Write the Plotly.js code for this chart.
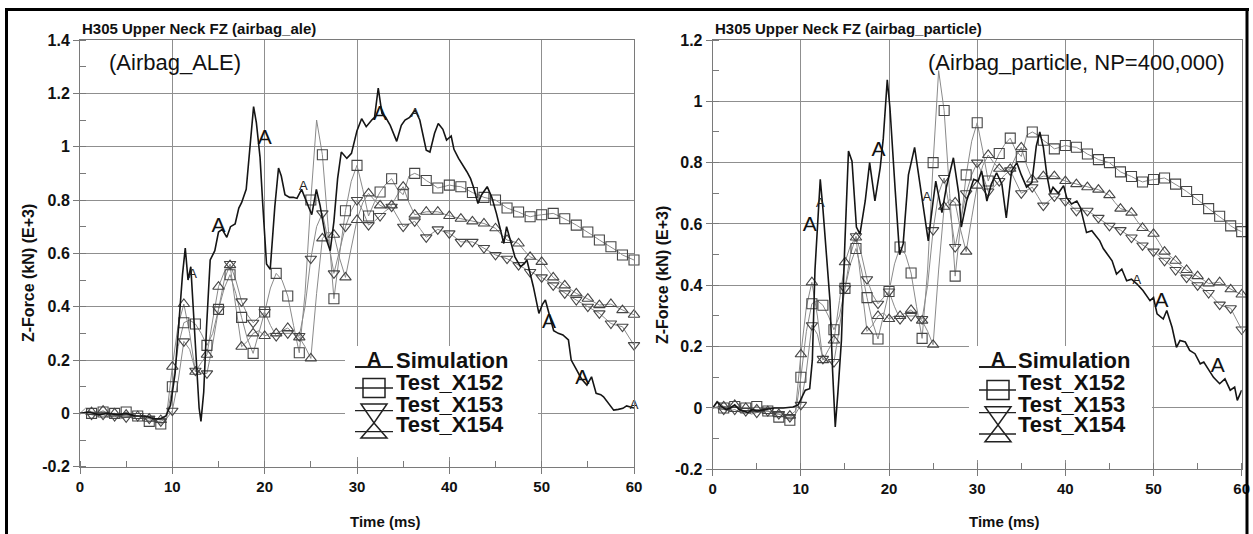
<!DOCTYPE html>
<html><head><meta charset="utf-8">
<script src="https://cdn.plot.ly/plotly-3.0.1.min.js"></script>
<style>html,body{margin:0;padding:0;background:#fff;}#chart{width:1253px;height:534px;}</style>
</head><body><div id="chart"></div>
<script>
// ---------- data ----------
const timeTest = [0,0.625,1.25,1.875,2.5,3.125,3.75,4.375,5,5.625,6.25,6.875,7.5,8.125,8.75,9.375,10,10.625,11.25,11.875,12.5,13.125,13.75,14.375,15,15.625,16.25,16.875,17.5,18.125,18.75,19.375,20,20.625,21.25,21.875,22.5,23.125,23.75,24.375,25,25.625,26.25,26.875,27.5,28.125,28.75,29.375,30,30.625,31.25,31.875,32.5,33.125,33.75,34.375,35,35.625,36.25,36.875,37.5,38.125,38.75,39.375,40,40.625,41.25,41.875,42.5,43.125,43.75,44.375,45,45.625,46.25,46.875,47.5,48.125,48.75,49.375,50,50.625,51.25,51.875,52.5,53.125,53.75,54.375,55,55.625,56.25,56.875,57.5,58.125,58.75,59.375,60];
const testX152 = [0,0.005,0,-0.005,0.005,0,0,-0.005,0.005,-0.005,-0.01,-0.015,-0.03,-0.025,-0.04,-0.02,0.1,0.25,0.34,0.35,0.335,0.3,0.255,0.3,0.39,0.47,0.52,0.45,0.36,0.28,0.225,0.3,0.38,0.47,0.525,0.5,0.44,0.33,0.227,0.45,0.8,1.1,0.97,0.7,0.43,0.6,0.76,0.87,0.93,0.84,0.74,0.79,0.83,0.86,0.88,0.84,0.82,0.89,0.9,0.89,0.873,0.86,0.845,0.85,0.856,0.852,0.85,0.84,0.828,0.82,0.81,0.805,0.8,0.785,0.77,0.762,0.755,0.745,0.737,0.742,0.745,0.748,0.75,0.74,0.73,0.718,0.706,0.693,0.68,0.665,0.65,0.637,0.625,0.61,0.594,0.583,0.575];
const testX153 = [0,0,-0.005,-0.01,-0.005,-0.015,-0.01,-0.02,-0.015,-0.01,-0.01,-0.02,-0.02,-0.03,-0.03,-0.02,0.01,0.12,0.27,0.24,0.16,0.15,0.15,0.26,0.39,0.5,0.56,0.5,0.42,0.37,0.34,0.36,0.38,0.33,0.29,0.3,0.3,0.3,0.29,0.4,0.58,0.7,0.75,0.65,0.525,0.61,0.7,0.76,0.8,0.76,0.706,0.72,0.74,0.76,0.775,0.74,0.7,0.71,0.72,0.69,0.66,0.675,0.69,0.682,0.675,0.66,0.643,0.643,0.643,0.632,0.62,0.607,0.594,0.587,0.58,0.568,0.556,0.543,0.53,0.52,0.51,0.495,0.48,0.465,0.45,0.437,0.425,0.412,0.4,0.387,0.375,0.356,0.337,0.33,0.325,0.29,0.256];
const testX154 = [0,0.02,0.005,0,0.01,-0.005,0,-0.01,-0.005,-0.01,-0.01,-0.015,-0.02,-0.02,-0.025,-0.01,0.175,0.33,0.41,0.3,0.156,0.19,0.22,0.35,0.475,0.53,0.556,0.4,0.25,0.27,0.3,0.31,0.29,0.3,0.3,0.31,0.32,0.3,0.285,0.25,0.206,0.45,0.656,0.68,0.67,0.58,0.51,0.62,0.725,0.79,0.825,0.8,0.78,0.77,0.78,0.82,0.85,0.79,0.745,0.75,0.756,0.756,0.756,0.748,0.74,0.735,0.73,0.725,0.72,0.716,0.712,0.703,0.694,0.67,0.65,0.645,0.637,0.61,0.587,0.578,0.568,0.54,0.51,0.495,0.48,0.465,0.45,0.44,0.43,0.418,0.406,0.408,0.41,0.398,0.387,0.378,0.37];

const simAleTime = [0,1,2,3,4,5,6,7,8,8.7,9.3,9.8,10.3,10.8,11.1,11.4,11.7,12,12.3,12.6,12.9,13.1,13.4,13.7,14.1,14.6,15,15.4,15.9,16.3,16.8,17.2,17.5,18,18.4,18.8,19.1,19.5,19.8,20.2,20.6,21.1,21.5,21.8,22.2,22.7,23.1,23.5,24,24.5,25.1,25.6,26,26.6,27.1,27.5,27.9,28.3,28.9,29.4,30,30.5,31,31.6,31.9,32.3,32.7,33.1,33.6,34.3,34.8,35.2,35.7,36.3,36.8,37.5,37.9,38.4,38.8,39.3,39.7,40.2,40.5,41,41.5,41.9,42.3,42.6,43.1,43.5,44.1,44.6,45.1,45.5,45.9,46.2,46.6,47.1,47.7,48.1,48.4,48.8,49.1,49.7,50.1,50.4,50.9,51.3,51.8,52.3,52.9,53.2,53.8,54.3,54.9,55.4,55.9,56.4,56.7,57.2,57.8,58.3,58.8,59.2,59.6,60];
const simAleForce = [0,0.005,-0.005,0,-0.005,0,-0.01,-0.01,-0.02,-0.02,-0.01,0.03,0.15,0.38,0.52,0.62,0.5,0.55,0.38,0.17,0.02,-0.03,0.08,0.32,0.575,0.61,0.68,0.69,0.66,0.7,0.71,0.77,0.79,0.84,0.99,1.15,1.09,0.96,0.78,0.56,0.54,0.775,0.92,0.89,0.82,0.81,0.81,0.806,0.84,0.8,0.745,0.84,0.78,0.66,0.61,0.72,0.88,0.98,0.956,0.975,1.06,1.105,1.075,1.1,1.11,1.22,1.125,1.11,1.08,1.02,1.08,1.1,1.11,1.137,1.1,0.987,0.98,1.05,1.087,1.065,1.025,1.04,0.99,0.956,0.93,0.906,0.88,0.85,0.787,0.82,0.85,0.81,0.75,0.687,0.637,0.7,0.65,0.587,0.55,0.56,0.575,0.52,0.475,0.375,0.41,0.425,0.362,0.31,0.3,0.294,0.275,0.2,0.162,0.13,0.106,0.137,0.075,0.07,0.062,0.04,0.012,0.015,0.019,0.028,0.025,0.02];
const simAleMarkTime = [15.0,20.0,32.5,50.8,54.4];
const simAleMarkForce = [0.70,1.03,1.12,0.34,0.13];
const simAleMinorMarkTime = [12.2,24.2,36.3,60.0];
const simAleMinorMarkForce = [0.52,0.85,1.125,0.03];

const simPartTime = [0,0.5,1,1.5,2,2.5,3,3.5,4,4.5,5,6,7,8,9.1,9.7,10.2,10.5,11,11.3,11.6,11.9,12.2,12.5,12.7,13,13.3,13.6,13.9,14.2,14.6,15,15.4,15.8,16.3,16.7,17.3,17.8,18.1,18.4,19,19.35,19.8,20.1,20.7,21.2,21.6,22.2,22.9,23.5,24,24.45,25,25.3,26,26.5,27.3,27.9,28.2,28.8,29.6,30.1,30.5,31.1,31.6,32.2,32.8,33.3,33.9,34.5,35,35.6,36.2,36.7,37.1,37.5,37.9,38.3,38.6,39.2,39.8,40.15,40.7,41.3,41.7,42,42.4,43,43.55,43.9,44.3,44.8,45.3,45.8,46.4,46.95,47.5,48.1,48.8,49.6,50,50.4,51.1,51.5,52.1,52.6,53,53.6,54.1,54.7,55.3,55.7,56.2,56.8,57.5,58.1,58.7,59.2,59.5,60];
const simPartForce = [0,0.02,0.005,-0.005,0,0.01,-0.005,-0.01,-0.015,-0.005,-0.01,-0.005,0,0,0.003,0.01,0.04,0.058,0.063,0.155,0.45,0.62,0.746,0.65,0.567,0.45,0.35,0.12,-0.062,0.05,0.22,0.545,0.838,0.805,0.59,0.567,0.675,0.8,0.74,0.675,0.784,0.88,1.07,0.98,0.71,0.5,0.535,0.76,0.85,0.73,0.63,0.545,0.675,0.74,0.637,0.72,0.816,0.7,0.59,0.675,0.746,0.74,0.773,0.675,0.73,0.767,0.73,0.62,0.773,0.8,0.76,0.72,0.735,0.854,0.9,0.85,0.76,0.7,0.72,0.7,0.725,0.686,0.665,0.675,0.654,0.62,0.572,0.578,0.56,0.545,0.52,0.5,0.48,0.437,0.453,0.415,0.42,0.405,0.383,0.35,0.36,0.307,0.29,0.318,0.263,0.198,0.22,0.215,0.188,0.177,0.144,0.15,0.128,0.1,0.079,0.095,0.058,0.068,0.025,0.058];
const simPartMarkTime = [11.0,18.8,50.9,57.3];
const simPartMarkForce = [0.594,0.838,0.345,0.133];
const simPartMinorMarkTime = [12.2,24.3,48.1,60.2];
const simPartMinorMarkForce = [0.665,0.686,0.415,0.07];

const seriesNames = ['Simulation','Test_X152','Test_X153','Test_X154'];
const xTickVals = [0,10,20,30,40,50,60];
const yTickValsAle = [-0.2,0,0.2,0.4,0.6,0.8,1,1.2,1.4];
const yTickTextAle = ['-0.2','0','0.2','0.4','0.6','0.8','1','1.2','1.4'];
const yTickValsPart = [-0.2,0,0.2,0.4,0.6,0.8,1,1.2];
const yTickTextPart = ['-0.2','0','0.2','0.4','0.6','0.8','1','1.2'];
const panelTitles = ['H305 Upper Neck FZ (airbag_ale)','H305 Upper Neck FZ (airbag_particle)'];
const panelNotes = ['(Airbag_ALE)','(Airbag_particle, NP=400,000)'];
const xTitle = 'Time (ms)';
const yTitle = 'Z-Force (kN) (E+3)';

// ---------- helpers ----------
const W = 1253, H = 534;
const PX = x => x / W;
const PY = y => 1 - y / H;
const FONT = 'Arial, "Liberation Sans", sans-serif';
function markerSubset(t, v){ const xs=[], ys=[]; for(let i=2;i<t.length;i+=2){xs.push(t[i]); ys.push(v[i]);} return [xs, ys]; }

const testSeries = [
  {name: seriesNames[1], v: testX152, sym: 'square-open'},
  {name: seriesNames[2], v: testX153, sym: 'triangle-down-open'},
  {name: seriesNames[3], v: testX154, sym: 'triangle-up-open'}
];
const traces = [];
const panels = [
  {xa:'x', ya:'y', st: simAleTime, sv: simAleForce, mt: simAleMarkTime, mv: simAleMarkForce, nt: simAleMinorMarkTime, nv: simAleMinorMarkForce},
  {xa:'x2', ya:'y2', st: simPartTime, sv: simPartForce, mt: simPartMarkTime, mv: simPartMarkForce, nt: simPartMinorMarkTime, nv: simPartMinorMarkForce}
];
panels.forEach(p => {
  testSeries.forEach(s => {
    traces.push({x: timeTest, y: s.v, xaxis:p.xa, yaxis:p.ya, mode:'lines', line:{color:'#8a8a8a', width:1}, showlegend:false, hoverinfo:'skip'});
  });
  testSeries.forEach(s => {
    const [mx, my] = markerSubset(timeTest, s.v);
    traces.push({x: mx, y: my, xaxis:p.xa, yaxis:p.ya, mode:'markers', cliponaxis:false,
      marker:{symbol:s.sym, size:10, color:'#454545', line:{width:1.1, color:'#454545'}}, showlegend:false, name:s.name});
  });
  traces.push({x: p.st, y: p.sv, xaxis:p.xa, yaxis:p.ya, mode:'lines', line:{color:'#151515', width:1.6}, showlegend:false, name:seriesNames[0]});
  traces.push({x: p.mt, y: p.mv, xaxis:p.xa, yaxis:p.ya, mode:'text', text: p.mt.map(()=> 'A'), textposition:'middle center', cliponaxis:false,
    textfont:{family:FONT, size:21, color:'#111'}, showlegend:false, hoverinfo:'skip'});
  traces.push({x: p.nt, y: p.nv, xaxis:p.xa, yaxis:p.ya, mode:'text', text: p.nt.map(()=> 'A'), textposition:'middle center', cliponaxis:false,
    textfont:{family:FONT, size:13, color:'#222'}, showlegend:false, hoverinfo:'skip'});
});

function xAxis(dom, anchor){
  return {domain: dom, anchor: anchor, range:[0,60], tickvals: xTickVals, showgrid:true, gridcolor:'#8f8f8f', gridwidth:1,
    showline:true, linecolor:'#7a7a7a', linewidth:1, mirror:true, ticks:'outside', ticklen:6, tickcolor:'#7a7a7a',
    tickfont:{family:FONT, size:15, color:'#111', weight:'bold'}, zeroline:false, fixedrange:true,
    minor:{dtick:5, tick0:0, ticks:'inside', ticklen:6, tickcolor:'#7a7a7a', showgrid:false}};
}
function yAxis(dom, anchor, rng, tv, tt){
  return {domain: dom, anchor: anchor, range: rng, tickvals: tv, ticktext: tt, showgrid:true, gridcolor:'#8f8f8f', gridwidth:1,
    showline:true, linecolor:'#7a7a7a', linewidth:1, mirror:true, ticks:'outside', ticklen:6, tickcolor:'#7a7a7a',
    tickfont:{family:FONT, size:16, color:'#111', weight:'bold'}, zeroline:false, fixedrange:true,
    minor:{dtick:0.1, tick0:0, ticks:'inside', ticklen:6, tickcolor:'#7a7a7a', showgrid:false}};
}

const annotations = [];
const shapes = [];
function txt(x, y, text, size, bold, anchor, angle){
  annotations.push({xref:'paper', yref:'paper', x:PX(x), y:PY(y), text: text, showarrow:false, xanchor: anchor||'left', yanchor:'middle',
    textangle: angle||0, font:{family:FONT, size:size, color:'#111', weight: bold ? 'bold' : 'normal'}});
}
function seg(x0,y0,x1,y1,w,c){ shapes.push({type:'line', xref:'paper', yref:'paper', x0:PX(x0), y0:PY(y0), x1:PX(x1), y1:PY(y1), line:{color:c||'#222', width:w||1.5}, layer:'above'}); }
function path(pts, w){ const d = 'M ' + pts.map(p=> PX(p[0])+','+PY(p[1])).join(' L ') + ' Z'; shapes.push({type:'path', xref:'paper', yref:'paper', path:d, line:{color:'#222', width:w||1.5}, fillcolor:'rgba(0,0,0,0)', layer:'above'}); }

// panel texts
txt(80, 28, panelTitles[0], 15, true);
txt(713, 28, panelTitles[1], 15, true);
txt(107, 63, panelNotes[0], 22, false);
txt(926, 62, panelNotes[1], 22, false);
txt(385, 521, xTitle, 15, true, 'center');
txt(1004, 521, xTitle, 15, true, 'center');
txt(28, 273, yTitle, 16, true, 'center', -90);
txt(662, 275, yTitle, 16, true, 'center', -90);

// legends
function legend(bx0, bx1, by0, by1, cx, l0, l1, tx, rows, sq, dt, ut, lines){
  shapes.push({type:'rect', xref:'paper', yref:'paper', x0:PX(bx0), x1:PX(bx1), y0:PY(by1), y1:PY(by0), line:{width:0}, fillcolor:'#ffffff', layer:'above'});
  txt(cx, rows[0]-1, 'A', 20, true, 'center');
  seg(l0, 367, l1, 367, 2);
  path([[cx-11, sq-9.5],[cx+11, sq-9.5],[cx+11, sq+9.5],[cx-11, sq+9.5]]);
  seg(l0, sq, l1, sq, 1.3);
  path([[cx-13, dt[0]],[cx+13, dt[0]],[cx, dt[1]]]);
  path([[cx, dt[1]],[cx+13, ut],[cx-13, ut]]);
  seg(l0, lines[0], l1, lines[0], 1.3);
  seg(l0, lines[1], l1, lines[1], 1.3);
  seriesNames.forEach((n,i)=> txt(tx, rows[i], n, 22, true));
}
legend(345, 538, 346, 457, 374, 355, 393, 394, [360, 382, 404, 425], 388, [404, 423], 438, [410.7, 431.7]);
legend(969, 1152, 346, 460, 998, 979, 1016, 1016, [360, 382, 404, 425], 390, [406.7, 425], 441.7, [412.7, 434]);

// outer frame
shapes.push({type:'line', xref:'paper', yref:'paper', x0:PX(5), x1:PX(1249), y0:PY(9.5), y1:PY(9.5), line:{color:'#000', width:3}, layer:'above'});
shapes.push({type:'line', xref:'paper', yref:'paper', x0:PX(6.5), x1:PX(6.5), y0:PY(8), y1:PY(534), line:{color:'#000', width:3}, layer:'above'});
shapes.push({type:'line', xref:'paper', yref:'paper', x0:PX(1247), x1:PX(1247), y0:PY(8), y1:PY(534), line:{color:'#000', width:3}, layer:'above'});

const layout = {
  width: W, height: H, autosize:false, margin:{l:0,r:0,t:0,b:0,pad:0},
  paper_bgcolor:'#ffffff', plot_bgcolor:'#ffffff', showlegend:false,
  font:{family:FONT, color:'#111'},
  xaxis: xAxis([PX(80), PX(634)], 'y'),
  yaxis: yAxis([PY(466.7), PY(40)], 'x', [-0.2,1.4], yTickValsAle, yTickTextAle),
  xaxis2: xAxis([PX(712.7), PX(1241.7)], 'y2'),
  yaxis2: yAxis([PY(469.3), PY(40)], 'x2', [-0.2,1.2], yTickValsPart, yTickTextPart),
  annotations: annotations, shapes: shapes
};
Plotly.newPlot('chart', traces, layout, {staticPlot:true, displayModeBar:false});
</script></body></html>
